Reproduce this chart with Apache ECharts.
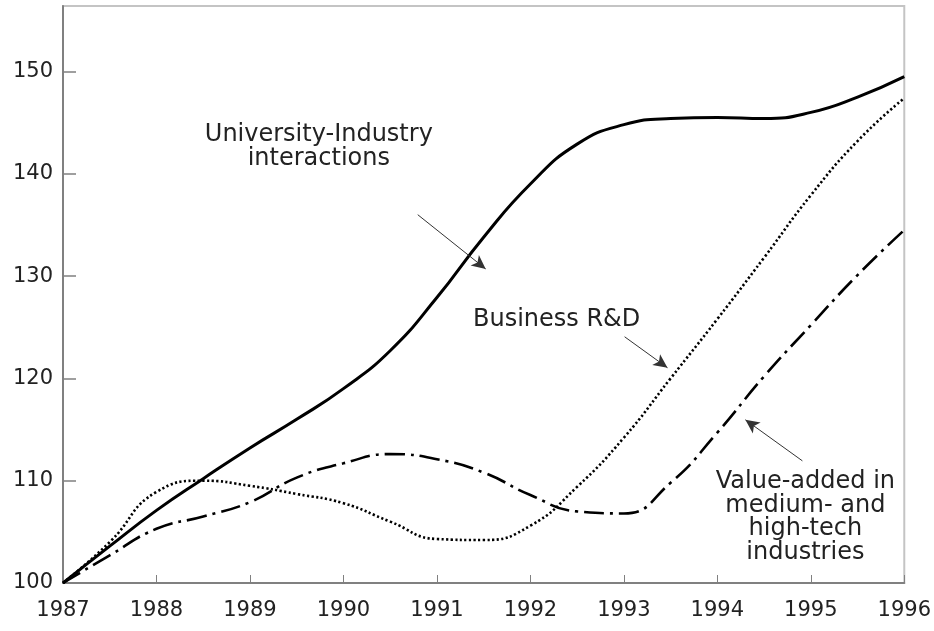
<!DOCTYPE html>
<html>
<head>
<meta charset="utf-8">
<script src="https://cdn.jsdelivr.net/npm/echarts@6/dist/echarts.min.js"></script>
<style>
html,body{margin:0;padding:0;background:#fff;}
#chart{width:934px;height:631px;}
</style>
</head>
<body>
<div id="chart"></div>
<script>
// ---- data ----
var years = [1987,1987.5,1988,1988.5,1989,1989.5,1990,1990.5,1991,1991.5,1992,1992.5,1993,1993.5,1994,1994.5,1995,1995.5,1996];
var universityIndustry = [100,103.6,107.1,110.2,113.2,116.0,119.0,122.7,127.9,133.8,139.0,142.9,144.8,145.4,145.5,145.4,146.0,147.5,149.5];
var businessRD = [100,104.0,108.9,110.0,109.5,108.7,107.8,106.0,104.3,104.2,105.6,109.4,114.2,120.0,125.8,131.8,137.9,143.2,147.4];
var valueAdded = [100,102.7,105.3,106.5,107.9,110.3,111.7,112.6,112.1,110.8,108.6,107.0,106.8,109.8,114.7,120.2,125.2,130.1,134.5];
var xTicks = [1987,1988,1989,1990,1991,1992,1993,1994,1995,1996];
var yTicks = [100,110,120,130,140,150];

// annotations (data coordinates)
var labelUI = {text:'University-Industry\ninteractions', at:[1989.737,142.66]};
var labelBRD = {text:'Business R&D', at:[1992.281,125.73]};
var labelVA = {text:'Value-added in\nmedium- and\nhigh-tech\nindustries', at:[1994.942,106.41]};
var arrowUI = [[1990.795,136.0],[1991.522,130.7]];
var arrowBRD = [[1993.008,124.07],[1993.467,121.04]];
var arrowVA = [[1994.91,111.94],[1994.30,115.95]];

function pairs(vals){ return years.map(function(y,i){ return [y, vals[i]]; }); }
function arrowLine(a){ return [{coord:a[0]},{coord:a[1]}]; }

var FONT = 'DejaVu Sans';
var chart = echarts.init(document.getElementById('chart'), null, {renderer:'canvas'});

var arrowML = function(a){
  return {silent:true, symbol:['none','arrow'], symbolSize:[10,14], label:{show:false},
    lineStyle:{color:'#333', width:1, type:'solid'}, data:[arrowLine(a)]};
};

var option = {
  backgroundColor:'#ffffff',
  animation:false,
  grid:{left:63, right:27, top:6, bottom:48, show:true, borderColor:'#c4c4c4', borderWidth:2, backgroundColor:'transparent'},
  xAxis:{
    type:'value', min:1987, max:1996, interval:1,
    axisLine:{show:true, lineStyle:{color:'#808080', width:2}},
    axisTick:{show:true, inside:true, length:8, lineStyle:{color:'#808080', width:1}},
    axisLabel:{color:'#222', fontSize:21, fontFamily:FONT, margin:17,
      formatter:function(v){ return xTicks.indexOf(v)>=0 ? String(v) : ''; }},
    splitLine:{show:false}
  },
  yAxis:{
    type:'value', min:100, max:156.4, interval:10,
    axisLine:{show:true, lineStyle:{color:'#808080', width:2}},
    axisTick:{show:true, inside:true, length:13, lineStyle:{color:'#808080', width:1.5},
      customValues: yTicks},
    axisLabel:{color:'#222', fontSize:21, fontFamily:FONT, margin:10,
      customValues: yTicks,
      formatter:function(v){ return yTicks.indexOf(v)>=0 ? String(v) : ''; }},
    splitLine:{show:false}
  },
  series:[
    {type:'line', name:'University-Industry interactions', data:pairs(universityIndustry), smooth:0.5,
      showSymbol:false, lineStyle:{color:'#000', width:3}, markLine:arrowML(arrowUI)},
    {type:'line', name:'Business R&D', data:pairs(businessRD), smooth:0.5,
      showSymbol:false, lineStyle:{color:'#000', width:2.6, type:[2.2,2.4]}, markLine:arrowML(arrowBRD)},
    {type:'line', name:'Value-added', data:pairs(valueAdded), smooth:0.5,
      showSymbol:false, lineStyle:{color:'#000', width:2.6, type:[20,6,3,6]}, markLine:arrowML(arrowVA)}
  ]
};
chart.setOption(option);

function textEl(lbl, lh){
  var p = chart.convertToPixel({gridIndex:0}, lbl.at);
  return {type:'text', x:p[0], y:p[1], silent:true,
    style:{text:lbl.text, fill:'#222', font:'24px "'+FONT+'"', align:'center', verticalAlign:'middle', lineHeight:lh}};
}
chart.setOption({graphic:[textEl(labelUI,24), textEl(labelBRD,24), textEl(labelVA,23.5)]});
</script>
</body>
</html>
